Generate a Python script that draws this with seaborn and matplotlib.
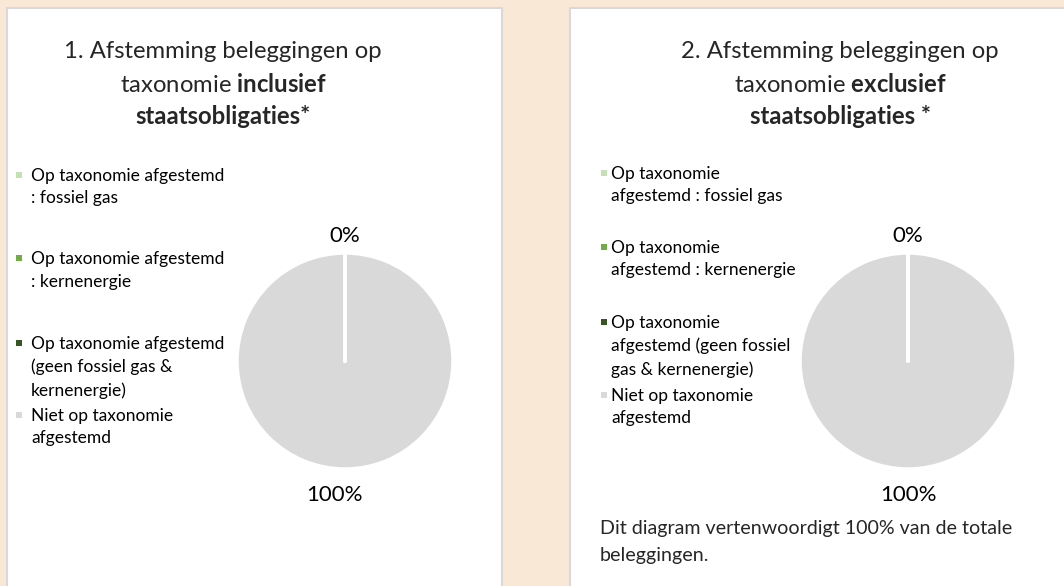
import seaborn as sns
import numpy as np
import matplotlib.pyplot as plt
from matplotlib.patches import Rectangle

# data
categories = ["Op taxonomie afgestemd : fossiel gas",
              "Op taxonomie afgestemd : kernenergie",
              "Op taxonomie afgestemd (geen fossiel gas & kernenergie)",
              "Niet op taxonomie afgestemd"]
labels_left = ["Op taxonomie afgestemd\n: fossiel gas",
               "Op taxonomie afgestemd\n: kernenergie",
               "Op taxonomie afgestemd\n(geen fossiel gas &\nkernenergie)",
               "Niet op taxonomie\nafgestemd"]
labels_right = ["Op taxonomie\nafgestemd : fossiel gas",
                "Op taxonomie\nafgestemd : kernenergie",
                "Op taxonomie\nafgestemd (geen fossiel\ngas & kernenergie)",
                "Niet op taxonomie\nafgestemd"]
incl_staat = [0, 0, 0, 100]
excl_staat = [0, 0, 0, 100]
colors = ["#C5E0B4", "#70AD47", "#375623", "#D9D9D9"]

sns.set_theme(style="white")
plt.rcParams["font.family"] = ["Lato", "DejaVu Sans"]
plt.rcParams["mathtext.fontset"] = "custom"
plt.rcParams["mathtext.rm"] = "Lato"
plt.rcParams["mathtext.bf"] = "Lato:bold"

W, H = 1064, 586
fig = plt.figure(figsize=(W / 100, H / 100), dpi=100, facecolor="#FAE8D6")


def fx(x):
    return x / W


def fy(y):
    return 1 - y / H


# white panels, kept below the pie axes
for x0, x1 in [(7, 502), (570, 1080)]:
    fig.add_artist(Rectangle((fx(x0), fy(600)), (x1 - x0) / W, 592 / H,
                             transform=fig.transFigure, facecolor="white",
                             edgecolor="#D9D9D9", lw=1.5, zorder=-5))


def draw_pie(cx, cy, values, shift100=0.0):
    r = 108
    ax = fig.add_axes([fx(cx - r), fy(cy + r), 2 * r / W, 2 * r / H])
    ax.set_zorder(2)
    ax.patch.set_visible(False)
    wedges, texts, autotexts = ax.pie(
        values, colors=colors, startangle=90, counterclock=False,
        autopct="%.0f%%", pctdistance=1.2,
        wedgeprops=dict(edgecolor="white", linewidth=2.5),
        textprops=dict(fontsize=16, color="black"))
    # zero slices: white separator from centre to rim
    for w in wedges:
        if w.theta1 == w.theta2:
            a = np.deg2rad(w.theta1)
            ax.plot([w.center[0], w.center[0] + w.r * np.cos(a)],
                    [w.center[1], w.center[1] + w.r * np.sin(a)],
                    color="white", lw=2.8, solid_capstyle="round")
    seen = set()
    for t in autotexts:
        key = (t.get_text(), round(t.get_position()[0], 3), round(t.get_position()[1], 3))
        if key in seen:
            t.set_visible(False)
        seen.add(key)
        x, y = t.get_position()
        if t.get_text() == "100%":
            t.set_position((x + shift100, y - 0.04))
        else:
            t.set_position((x, y - 0.04))
    ax.set_xlim(-1, 1)
    ax.set_ylim(-1, 1)
    ax.axis("off")
    return ax


def draw_legend(labels, x_mark, x_text, ys):
    for lab, col, y in zip(labels, colors, ys):
        fig.add_artist(Rectangle((fx(x_mark - 3), fy(y + 3)), 6 / W, 6 / H,
                                 transform=fig.transFigure, facecolor=col, lw=0))
        fig.text(fx(x_text), fy(y - 7), lab, ha="left", va="top",
                 fontsize=12.5, linespacing=1.5, color="black")


# left panel
fig.text(fx(223), fy(51), "1. Afstemming beleggingen op", ha="center", va="center", fontsize=17.2)
fig.text(fx(223), fy(84), r"taxonomie $\mathbf{inclusief}$", ha="center", va="center", fontsize=17.2)
fig.text(fx(223), fy(117), "staatsobligaties*", ha="center", va="center", fontsize=17.2, fontweight="bold")
draw_legend(labels_left, 19, 31, [175, 258, 343, 415])
draw_pie(345, 361, incl_staat, shift100=-0.1)

# right panel
fig.text(fx(840), fy(51), "2. Afstemming beleggingen op", ha="center", va="center", fontsize=17.2)
fig.text(fx(840), fy(84), r"taxonomie $\mathbf{exclusief}$", ha="center", va="center", fontsize=17.2)
fig.text(fx(840), fy(117), "staatsobligaties *", ha="center", va="center", fontsize=17.2, fontweight="bold")
draw_legend(labels_right, 604, 611, [173, 247, 322, 395])
draw_pie(908, 361, excl_staat)

fig.text(fx(600), fy(520), "Dit diagram vertenwoordigt 100% van de totale\nbeleggingen.",
         ha="left", va="top", fontsize=14.1, linespacing=1.75)

fig.savefig("out.png", dpi=100, facecolor=fig.get_facecolor())
